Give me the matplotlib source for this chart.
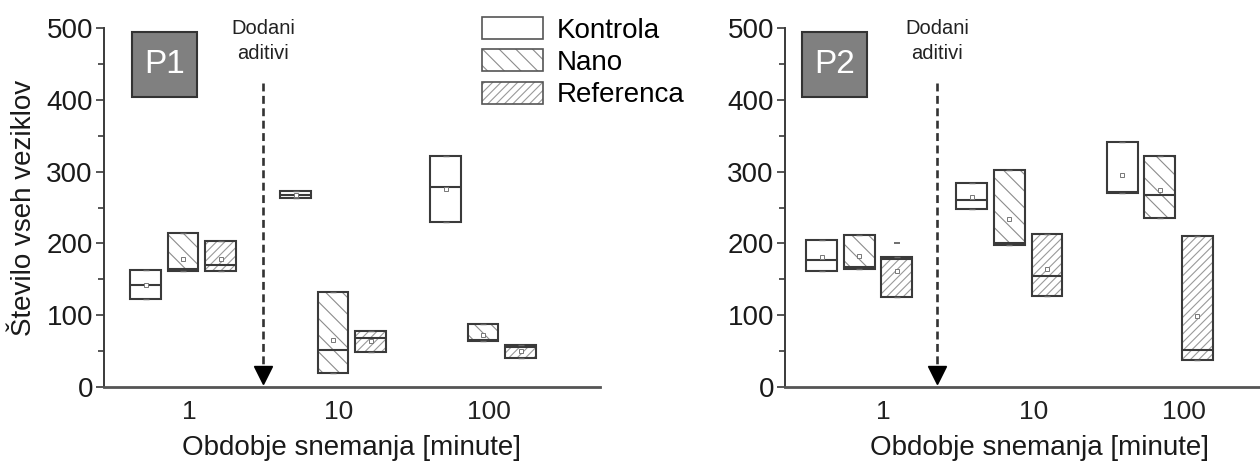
import matplotlib
matplotlib.use("Agg")
import matplotlib.pyplot as plt
import numpy as np
from matplotlib.patches import Patch, Rectangle
from matplotlib.legend_handler import HandlerTuple

plt.rcParams['font.family'] = ['Liberation Sans', 'DejaVu Sans']
plt.rcParams['hatch.linewidth'] = 0.8

times = ['1', '10', '100']
series = ['Kontrola', 'Nano', 'Referenca']
hatches = ['', '\\\\', '////']
hatch_cols = ['white', '#8c8c8c', '#9a9a9a']

# rows = series (Kontrola, Nano, Referenca), columns = times (1, 10, 100)
p1_low = [[122, 263, 230], [162, 19, 64], [162, 49, 40]]
p1_high = [[163, 273, 322], [214, 132, 88], [203, 78, 58]]
p1_med = [[142, 268, 278], [164, 51, 66], [170, 68, 56]]
p1_mean = [[142, 268, 276], [179, 66, 73], [179, 64, 50]]

p2_low = [[161, 248, 270], [165, 198, 235], [126, 127, 37]]
p2_high = [[205, 284, 342], [212, 302, 322], [181, 213, 210]]
p2_med = [[177, 260, 272], [167, 201, 267], [179, 154, 51]]
p2_mean = [[181, 265, 295], [182, 234, 274], [162, 164, 99]]
p2_ref_extra = [201]  # lone dash above Referenca box at 1 min

EDGE = '#3a3a3a'


def draw_panel(ax, low, high, med, mean, tick_shift, arrow_x, xlim):
    centers = np.arange(len(times))
    offs = [-0.25, 0.0, 0.25]
    w = 0.205
    for i, s in enumerate(series):
        x = centers + offs[i]
        lo = np.array(low[i])
        hi = np.array(high[i])
        if hatches[i]:
            ax.bar(x, hi - lo, w, bottom=lo, color='white', edgecolor=hatch_cols[i],
                   hatch=hatches[i], linewidth=0, zorder=2)
        ax.bar(x, hi - lo, w, bottom=lo, fill=False, edgecolor=EDGE, linewidth=1.5, zorder=3)
        ax.hlines(med[i], x - w / 2, x + w / 2, color=EDGE, lw=1.5, zorder=3)
        ax.plot(x, mean[i], 's', ms=3.5, mfc='white', mec='#777777', mew=0.7, zorder=4)
        ax.plot(x, lo, '_', ms=4, color='#666666', mew=1, zorder=4)
        ax.plot(x, hi, '_', ms=4, color='#666666', mew=1, zorder=4)

    # arrow "Dodani aditivi"
    ax.plot([arrow_x, arrow_x], [423, 30], color='#333333', lw=1.9,
            linestyle=(0, (3, 1.7)), zorder=2)
    ax.plot([arrow_x], [17], 'v', ms=13.5, color='black', zorder=3, clip_on=False)
    ax.text(arrow_x, 482, 'Dodani\naditivi', ha='center', va='center',
            fontsize=14.5, color='#222222', linespacing=1.4)

    ax.set_xlim(*xlim)
    ax.set_ylim(0, 500)
    ax.set_xticks(centers + tick_shift)
    ax.set_xticklabels(times)
    ax.set_yticks(np.arange(0, 501, 100))
    ax.set_yticks(np.arange(50, 500, 100), minor=True)
    ax.tick_params(axis='x', length=0, pad=9, labelsize=19, colors='#222222')
    ax.tick_params(axis='y', which='major', direction='out', length=6, width=1.2,
                   labelsize=20, pad=2, color=EDGE, labelcolor='#1a1a1a')
    ax.tick_params(axis='y', which='minor', direction='out', length=4, width=1.2, color=EDGE)
    for sp in ['top', 'right']:
        ax.spines[sp].set_visible(False)
    ax.spines['left'].set_color(EDGE)
    ax.spines['left'].set_linewidth(1.4)
    ax.spines['bottom'].set_color('#555555')
    ax.spines['bottom'].set_linewidth(2)
    ax.set_xlabel('Obdobje snemanja [minute]', fontsize=20, labelpad=8, color='#1a1a1a')


fig = plt.figure(figsize=(12.6, 4.68), dpi=100)
W, H = 1260.0, 468.0

ax1 = fig.add_axes([104 / W, 0.173, 496 / W, 0.767])
ax2 = fig.add_axes([785 / W, 0.173, 510 / W, 0.767])

draw_panel(ax1, p1_low, p1_high, p1_med, p1_mean, 0.04, 0.533, (-0.527, 2.78))
draw_panel(ax2, p2_low, p2_high, p2_med, p2_mean, 0.16, 0.52, (-0.493, 2.9))
ax2.plot([0.25] * len(p2_ref_extra), p2_ref_extra, '_', ms=4, color='#555555', mew=1.2, zorder=4)

ax1.set_ylabel('Število vseh veziklov', fontsize=20, labelpad=7, color='#1a1a1a')

# panel tags
for px, tag in [(132, 'P1'), (802, 'P2')]:
    fig.add_artist(Rectangle((px / W, 1 - 97 / H), 65 / W, 65 / H, transform=fig.transFigure,
                             facecolor='#808080', edgecolor='#333333', lw=1.5))
    fig.text((px + 32.5) / W, 1 - 64.5 / H, tag, color='white', fontsize=24,
             ha='center', va='center')

# legend
handles = []
for i, s in enumerate(series):
    if hatches[i]:
        h = (Patch(facecolor='white', edgecolor=hatch_cols[i], hatch=hatches[i], linewidth=0),
             Patch(fill=False, edgecolor='#555555', linewidth=1.2))
    else:
        h = (Patch(fill=False, edgecolor='#555555', linewidth=1.2),)
    handles.append(h)
fig.legend(handles, series, loc='upper left', bbox_to_anchor=(482 / W, 1 - 17 / H),
           handler_map={tuple: HandlerTuple(ndivide=1, pad=0)},
           frameon=False, fontsize=20, handlelength=2.2, handleheight=0.85,
           handletextpad=0.5, labelspacing=0.2, borderpad=0, borderaxespad=0)

fig.savefig('out.png', dpi=100)
